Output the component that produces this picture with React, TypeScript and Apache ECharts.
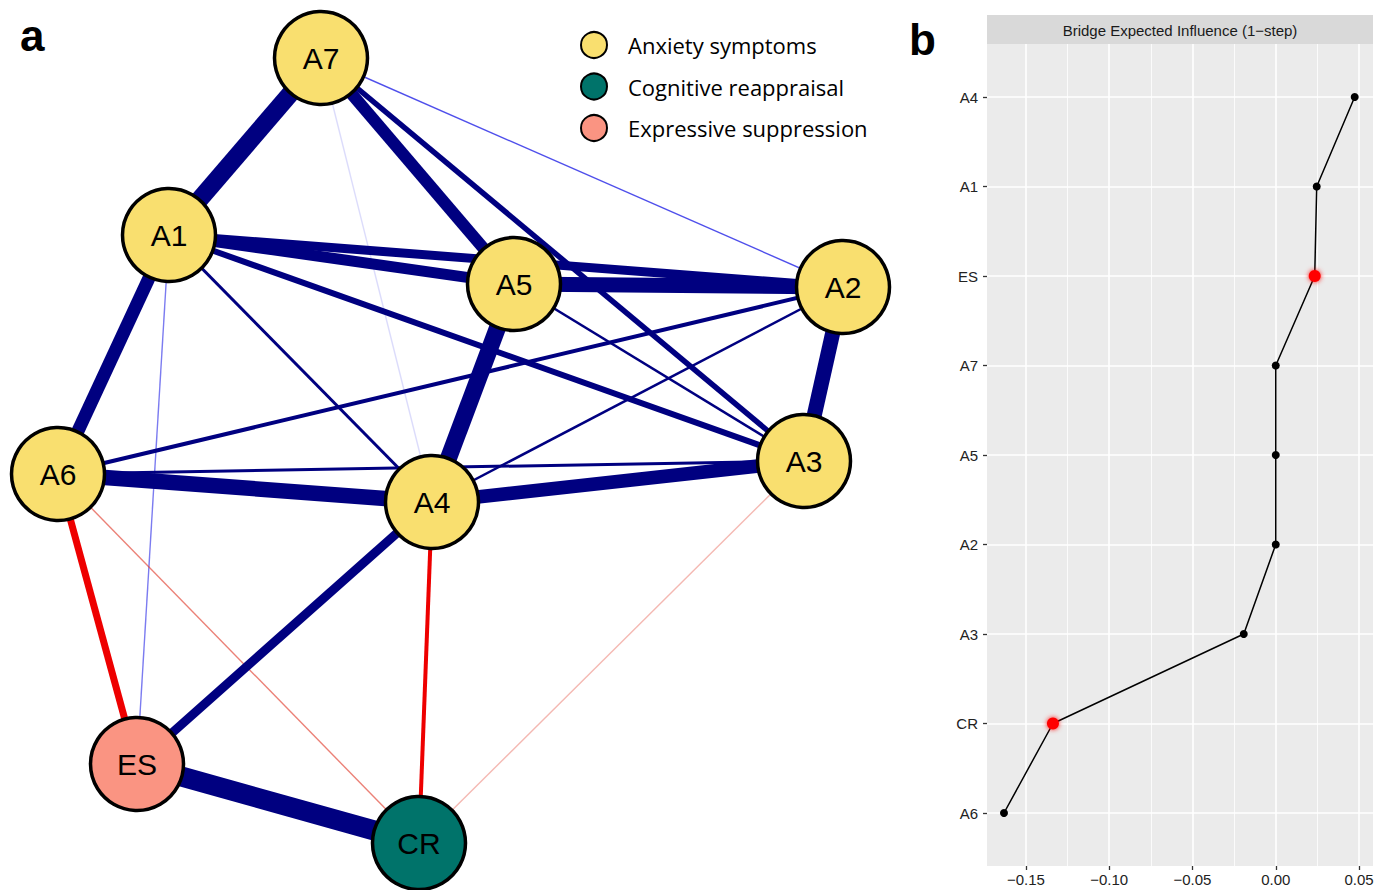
import React, { useEffect, useRef } from "react";
import * as echarts from "echarts";

// ---------- Panel a: network ----------
const nodeNames = ["A7", "A1", "A5", "A2", "A6", "A4", "A3", "ES", "CR"];
const nodeX = [321, 169, 514, 843, 58, 432, 804, 137, 419];
const nodeY = [58, 235, 284, 287, 474, 502, 461, 764, 843];
const nodeGroup = [0, 0, 0, 0, 0, 0, 0, 2, 1];
const groupNames = ["Anxiety symptoms", "Cognitive reappraisal", "Expressive suppression"];
const groupColors = ["#F9DF6F", "#00736A", "#FA9482"];

const edgeFrom = ["ES", "A7", "A5", "A6", "A5", "A2", "A4", "A1", "A7", "A1", "A1", "A4", "A6", "A1", "A7", "A4", "A2", "A6", "A1", "A2", "A5", "A7", "A1", "A7", "A6", "A3"];
const edgeTo = ["CR", "A1", "A4", "A4", "A2", "A3", "A3", "A6", "A5", "A5", "A2", "ES", "ES", "A3", "A3", "CR", "A6", "A3", "A4", "A4", "A3", "A2", "ES", "A4", "CR", "CR"];
const edgeWeight = [0.2, 0.18, 0.17, 0.155, 0.15, 0.15, 0.135, 0.13, 0.12, 0.11, 0.09, 0.09, -0.07, 0.06, 0.055, -0.04, 0.04, 0.03, 0.03, 0.025, 0.025, 0.02, 0.015, 0.004, -0.016, -0.009];

// ---------- Panel b: bridge expected influence ----------
const beiNodes = ["A4", "A1", "ES", "A7", "A5", "A2", "A3", "CR", "A6"];
const beiValues = [0.0474, 0.0246, 0.0234, 0.0, 0.0, 0.0, -0.0192, -0.1338, -0.1632];
const beiHighlighted = ["ES", "CR"];
const xTicks = [-0.15, -0.1, -0.05, 0, 0.05];
const xMinorTicks = [-0.125, -0.075, -0.025, 0.025];
const xRange = [-0.1734, 0.0584];
const stripTitle = "Bridge Expected Influence (1\u2212step)";

const CUT = 0.025;

function edgeStyle(w: number) {
  const a = Math.abs(w);
  const pos = w > 0;
  if (a >= CUT) {
    return { width: a * 100, color: pos ? "#000080" : "#EE0000", opacity: 1 };
  }
  return { width: 1.4, color: pos ? "#2323E6" : "#E03A2A", opacity: Math.max(0.14, a / CUT) };
}

export default function App() {
  const ref = useRef<HTMLDivElement>(null);
  useEffect(() => {
    if (!ref.current) return;
    const chart = echarts.init(ref.current, undefined, { renderer: "svg" });

    const order = edgeWeight.map((_, i) => i).sort((a, b) => Math.abs(edgeWeight[a]) - Math.abs(edgeWeight[b]));
    const links = order.map((i) => ({
      source: edgeFrom[i],
      target: edgeTo[i],
      lineStyle: { ...edgeStyle(edgeWeight[i]), curveness: 0 },
    }));
    const nodes = nodeNames.map((n, i) => ({
      name: n,
      value: [nodeX[i], nodeY[i]],
      category: nodeGroup[i],
    }));

    const beiData = beiValues.map((v, i) =>
      beiHighlighted.includes(beiNodes[i])
        ? {
            value: v,
            symbolSize: 12,
            itemStyle: { color: "#FF0000", shadowBlur: 5, shadowColor: "rgba(255,0,0,0.9)" },
          }
        : { value: v }
    );

    const fmt = (v: number) => v.toFixed(2).replace("-", "\u2212");

    chart.setOption({
      animation: false,
      backgroundColor: "#ffffff",
      legend: {
        orient: "vertical",
        left: 580,
        top: 31,
        padding: 0,
        itemWidth: 58,
        itemHeight: 26,
        itemGap: 13.5,
        icon: "circle",
        selectedMode: false,
        itemStyle: { borderColor: "#000", borderWidth: 2 },
        textStyle: { fontSize: 22, fontFamily: "Open Sans", color: "#000" },
        data: groupNames,
      },
      grid: [
        { left: 0, top: 0, width: 900, height: 890, show: false },
        { left: 987, top: 44, width: 386, height: 822, show: true, backgroundColor: "#EBEBEB", borderWidth: 0 },
        { left: 987, top: 97, width: 386, height: 716, show: false },
      ],
      xAxis: [
        { type: "value", gridIndex: 0, min: 0, max: 900, show: false },
        {
          type: "value",
          gridIndex: 1,
          position: "bottom",
          min: xRange[0],
          max: xRange[1],
          axisLine: { show: false, onZero: false },
          axisTick: { show: true, length: 4, lineStyle: { color: "#333", width: 1.3 }, customValues: xTicks },
          axisLabel: { color: "#222", fontSize: 15, fontFamily: "Liberation Sans", margin: 6, formatter: fmt, customValues: xTicks },
          splitLine: { show: true, lineStyle: { color: "#FFFFFF", width: 1.6 } },
        },
        {
          type: "value",
          gridIndex: 1,
          position: "top",
          min: xRange[0],
          max: xRange[1],
          axisLine: { show: false, onZero: false },
          axisTick: { show: false, customValues: xMinorTicks },
          axisLabel: { show: false, customValues: xMinorTicks },
          splitLine: { show: true, lineStyle: { color: "#FFFFFF", width: 0.8 } },
        },
        { type: "value", gridIndex: 2, min: xRange[0], max: xRange[1], show: false },
      ],
      yAxis: [
        { type: "value", gridIndex: 0, min: 0, max: 890, inverse: true, show: false },
        { type: "value", gridIndex: 1, min: 0, max: 1, show: false },
        {
          type: "category",
          gridIndex: 2,
          position: "left",
          data: beiNodes,
          inverse: true,
          boundaryGap: false,
          axisLine: { show: false, onZero: false },
          axisTick: { show: true, length: 4, lineStyle: { color: "#333", width: 1.3 } },
          axisLabel: { color: "#222", fontSize: 15, fontFamily: "Liberation Sans", margin: 9 },
          splitLine: { show: true, lineStyle: { color: "#FFFFFF", width: 1.6 } },
        },
      ],
      series: [
        {
          type: "graph",
          coordinateSystem: "cartesian2d",
          xAxisIndex: 0,
          yAxisIndex: 0,
          layout: "none",
          symbol: "circle",
          symbolSize: 93,
          categories: groupNames.map((g, i) => ({ name: g, itemStyle: { color: groupColors[i] } })),
          itemStyle: { borderColor: "#000", borderWidth: 3.5 },
          label: { show: true, position: "inside", fontSize: 30, fontFamily: "Liberation Sans", color: "#000" },
          lineStyle: { opacity: 1 },
          emphasis: { disabled: true },
          data: nodes,
          links,
          silent: true,
        },
        {
          type: "line",
          xAxisIndex: 3,
          yAxisIndex: 2,
          data: beiData,
          symbol: "circle",
          symbolSize: 8,
          itemStyle: { color: "#000" },
          lineStyle: { color: "#000", width: 1.5 },
          silent: true,
          z: 5,
        },
      ],
      graphic: [
        { type: "text", left: 20, top: 13, style: { text: "a", font: 'bold 44px "Liberation Sans"', fill: "#000" } },
        { type: "text", left: 909, top: 17, style: { text: "b", font: 'bold 44px "Liberation Sans"', fill: "#000" } },
        { type: "rect", shape: { x: 987, y: 15, width: 386, height: 29 }, style: { fill: "#D9D9D9" } },
        {
          type: "text",
          x: 1180,
          y: 30,
          style: {
            text: stripTitle,
            font: '15px "Liberation Sans"',
            fill: "#1A1A1A",
            textAlign: "center",
            textVerticalAlign: "middle",
          },
        },
      ],
    });
    return () => chart.dispose();
  }, []);
  return <div ref={ref} style={{ position: "absolute", left: 0, top: 0, width: 1387, height: 890 }} />;
}
